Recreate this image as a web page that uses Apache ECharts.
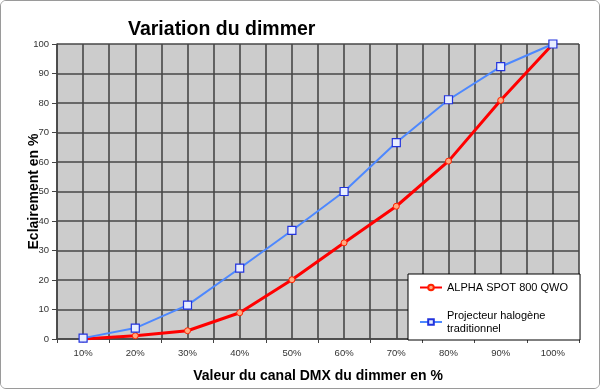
<!DOCTYPE html>
<html>
<head>
<meta charset="utf-8">
<script src="https://cdn.jsdelivr.net/npm/echarts@6/dist/echarts.min.js"></script>
<style>
html,body{margin:0;padding:0;background:#fff;}
#frame{position:absolute;left:0;top:0;width:598px;height:387px;border:1px solid #9a9a9a;border-radius:6px;overflow:hidden;}
#chart{width:598px;height:387px;}
</style>
</head>
<body>
<div id="frame"><div id="chart"></div></div>
<script>
const categories = ['10%','20%','30%','40%','50%','60%','70%','80%','90%','100%'];
const alphaSpot = [0, 1.1, 2.8, 8.9, 20.1, 32.6, 45.0, 60.3, 80.9, 100];
const halogene = [0.3, 3.7, 11.5, 24.0, 36.8, 50.0, 66.6, 81.1, 92.3, 100];
const seriesNames = ['ALPHA SPOT 800 QWO', 'Projecteur halogène traditionnel'];
const legendLabels = ['ALPHA SPOT 800 QWO', 'Projecteur halogène\ntraditionnel'];

const chart = echarts.init(document.getElementById('chart'), null, {renderer:'canvas'});
const font = 'Liberation Sans, Arial, sans-serif';
chart.setOption({
  animation:false,
  backgroundColor:'#fff',
  title:{
    text:'Variation du dimmer', left:122, top:14,
    textStyle:{fontFamily:font, fontSize:19.5, fontWeight:'bold', color:'#000'}
  },
  grid:{left:56, right:20, top:43, bottom:47, show:true, backgroundColor:'#cccccc', borderWidth:0},
  legend:{
    orient:'vertical', left:407, top:273,
    backgroundColor:'#fff', borderColor:'#000', borderWidth:1,
    padding:[7,12,5,11], itemGap:15, itemWidth:22, itemHeight:7,
    textStyle:{fontFamily:font, fontSize:11, color:'#000', lineHeight:13},
    data:seriesNames,
    formatter:function(n){ return legendLabels[seriesNames.indexOf(n)]; }
  },
  xAxis:[{
    type:'category', data:categories, boundaryGap:true,
    name:'Valeur du canal DMX du dimmer en %', nameLocation:'middle', nameGap:30,
    nameTextStyle:{fontFamily:font, fontSize:14, fontWeight:'bold', color:'#000'},
    axisLine:{lineStyle:{color:'#444', width:1.5}},
    axisTick:{show:true, length:4, lineStyle:{color:'#444'}},
    axisLabel:{fontFamily:font, fontSize:9.5, color:'#333', margin:9},
    splitLine:{show:false}
  },{
    type:'value', min:0, max:20, interval:1, position:'bottom',
    axisLine:{show:false}, axisTick:{show:false}, axisLabel:{show:false},
    splitLine:{show:true, lineStyle:{color:'#474747', width:1.6}}
  }],
  yAxis:{
    type:'value', min:0, max:100, interval:10,
    name:'Eclairement en %', nameLocation:'middle', nameGap:16, nameRotate:90,
    nameMoveOverlap:false,
    nameTextStyle:{fontFamily:font, fontSize:14, fontWeight:'bold', color:'#000'},
    axisLine:{show:true, lineStyle:{color:'#444', width:1.5}},
    axisTick:{show:true, length:5, lineStyle:{color:'#444'}},
    axisLabel:{fontFamily:font, fontSize:9.5, color:'#333', margin:8},
    splitLine:{show:true, lineStyle:{color:'#474747', width:1.6}}
  },
  series:[{
    name:seriesNames[0], type:'line', data:alphaSpot, xAxisIndex:0,
    symbol:'circle', symbolSize:6, z:3,
    lineStyle:{color:'#ff0000', width:3},
    itemStyle:{color:'#ffaa80', borderColor:'#ff2200', borderWidth:1}
  },{
    name:seriesNames[1], type:'line', data:halogene, xAxisIndex:0,
    symbol:'rect', symbolSize:8, z:4,
    lineStyle:{color:'#4d88ff', width:2},
    itemStyle:{color:'#e8eeff', borderColor:'#2233dd', borderWidth:1.2}
  }]
});
</script>
</body>
</html>
